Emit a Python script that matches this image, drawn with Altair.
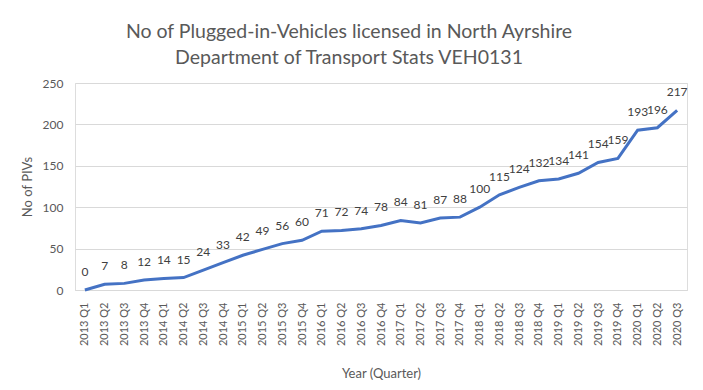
import altair as alt
import pandas as pd

quarters = [
    "2013 Q1", "2013 Q2", "2013 Q3", "2013 Q4",
    "2014 Q1", "2014 Q2", "2014 Q3", "2014 Q4",
    "2015 Q1", "2015 Q2", "2015 Q3", "2015 Q4",
    "2016 Q1", "2016 Q2", "2016 Q3", "2016 Q4",
    "2017 Q1", "2017 Q2", "2017 Q3", "2017 Q4",
    "2018 Q1", "2018 Q2", "2018 Q3", "2018 Q4",
    "2019 Q1", "2019 Q2", "2019 Q3", "2019 Q4",
    "2020 Q1", "2020 Q2", "2020 Q3",
]
pivs = [0, 7, 8, 12, 14, 15, 24, 33, 42, 49, 56, 60, 71, 72, 74, 78,
        84, 81, 87, 88, 100, 115, 124, 132, 134, 141, 154, 159, 193, 196, 217]
y_ticks = [0, 50, 100, 150, 200, 250]

df = pd.DataFrame({"quarter": quarters, "pivs": pivs})

FONT = "Lato"
GREY = "#595959"

x_enc = alt.X("quarter:N", sort=quarters,
              scale=alt.Scale(type="point", padding=0.5),
              axis=alt.Axis(title="Year (Quarter)", labelAngle=-90, labelAlign="right",
                            labelBaseline="middle", labelPadding=12, labelFontSize=11,
                            labelColor=GREY, titleColor=GREY, titleFontSize=13,
                            titleFontWeight="normal", titleFont=FONT, labelFont=FONT,
                            titlePadding=22, ticks=False, domainColor="#D9D9D9",
                            grid=False, labelOverlap=False))
y_enc = alt.Y("pivs:Q", scale=alt.Scale(domain=[0, 250], nice=False),
              axis=alt.Axis(title="No of PIVs", values=y_ticks, labelFontSize=12,
                            labelColor=GREY, titleColor=GREY, titleFontSize=13,
                            titleFontWeight="normal", titleFont=FONT, labelFont=FONT,
                            labelPadding=12, titlePadding=8, ticks=False, domain=False,
                            gridColor="#D9D9D9", gridWidth=1))

line = alt.Chart(df).mark_line(color="#4472C4", strokeWidth=3).encode(x=x_enc, y=y_enc)
labels = alt.Chart(df).mark_text(dy=-18, fontSize=12, color="#404040", font=FONT,
                                 baseline="middle").encode(
    x=alt.X("quarter:N", sort=quarters), y="pivs:Q", text="pivs:Q")

chart = alt.layer(line, labels).properties(
    width=612, height=207,
    autosize=alt.AutoSizeParams(type="none"),
    padding={"left": 67, "top": 75, "right": 8, "bottom": 100},
    title=alt.TitleParams(
        ["No of Plugged-in-Vehicles licensed in North Ayrshire",
         "Department of Transport Stats VEH0131"],
        font=FONT, fontSize=19.5, fontWeight="normal", color=GREY,
        anchor="middle", dx=-32, offset=9, lineHeight=26),
).configure_view(stroke=None).configure(background="white")

chart.save("out.html", embed_options={"renderer": "svg", "actions": False})
